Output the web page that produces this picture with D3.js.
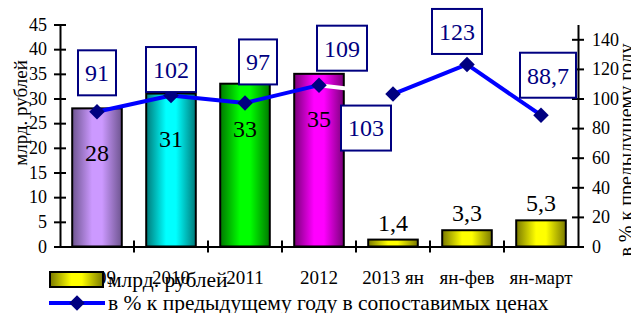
<!DOCTYPE html>
<html>
<head>
<meta charset="utf-8">
<script src="https://cdnjs.cloudflare.com/ajax/libs/d3/7.8.5/d3.min.js"></script>
<style>
  html, body { margin: 0; padding: 0; background: #fff; }
  svg text { font-family: "Liberation Serif", "Times New Roman", serif !important; }
</style>
</head>
<body>
<div id="chart"></div>
<script>
// data
const categories = ['2009', '2010', '2011', '2012', '2013 ян', 'ян-фев', 'ян-март'];
const amounts = [28, 31, 33, 35, 1.4, 3.3, 5.3];              // млрд. рублей
const amountLabels = ['28', '31', '33', '35', '1,4', '3,3', '5,3'];
const percents = [91, 102, 97, 109, 103, 123, 88.7];           // в % к предыдущему году
const percentLabels = ['91', '102', '97', '109', '103', '123', '88,7'];
const leftTicks = [0, 5, 10, 15, 20, 25, 30, 35, 40, 45];
const rightTicks = [0, 20, 40, 60, 80, 100, 120, 140];

// bar fills (center colour / edge colour)
const barColors = [
  ['#cc99ff', '#6e5590'],
  ['#00ffff', '#007a7a'],
  ['#00ff00', '#007a00'],
  ['#ff00ff', '#7a007a'],
  ['#ffff00', '#7a7a00'],
  ['#ffff00', '#7a7a00'],
  ['#ffff00', '#7a7a00']
];
// where each boxed percent label sits relative to its marker
const labelOffsets = [[0, -39], [0, -26], [13, -41], [23, -37], [-27, 34], [-10, -33], [7, -40]];

const W = 631, H = 313;
const margin = { top: 24.5, right: 53, bottom: 66.5, left: 60 };

const svg = d3.select('#chart').append('svg')
  .attr('width', W).attr('height', H);
svg.append('rect').attr('width', W).attr('height', H).attr('fill', '#fff');

const x = d3.scaleBand()
  .domain(categories)
  .range([margin.left, W - margin.right])
  .paddingInner(0.33)
  .paddingOuter(0.165);

const xb = d3.scaleBand()
  .domain(categories)
  .range([margin.left, W - margin.right]);

const y = d3.scaleLinear().domain([0, 45]).range([H - margin.bottom, margin.top]);
const y2 = d3.scaleLinear().domain([0, 150]).range([H - margin.bottom, margin.top]);

// gradients
const defs = svg.append('defs');
barColors.forEach((c, i) => {
  const g = defs.append('linearGradient').attr('id', 'grad' + i)
    .attr('x1', '0%').attr('x2', '100%').attr('y1', '0%').attr('y2', '0%');
  g.append('stop').attr('offset', '0%').attr('stop-color', c[1]);
  g.append('stop').attr('offset', '40%').attr('stop-color', c[0]);
  g.append('stop').attr('offset', '60%').attr('stop-color', c[0]);
  g.append('stop').attr('offset', '100%').attr('stop-color', c[1]);
});

// bars
svg.selectAll('.bar')
  .data(amounts)
  .enter().append('rect')
  .attr('class', 'bar')
  .attr('x', (d, i) => x(categories[i]))
  .attr('y', d => y(d))
  .attr('width', x.bandwidth())
  .attr('height', d => y(0) - y(d))
  .attr('fill', (d, i) => 'url(#grad' + i + ')')
  .attr('stroke', '#000')
  .attr('stroke-width', 2);

// bar value labels
svg.selectAll('.blabel')
  .data(amounts)
  .enter().append('text')
  .attr('class', 'blabel')
  .attr('x', (d, i) => x(categories[i]) + x.bandwidth() / 2)
  .attr('y', d => d > 10 ? y(d) + 53 : y(d) - 9)
  .attr('text-anchor', 'middle')
  .attr('font-size', 24)
  .attr('fill', '#000')
  .text((d, i) => amountLabels[i]);

// left axis
const leftAxis = svg.append('g')
  .attr('transform', `translate(${margin.left},0)`)
  .call(d3.axisLeft(y).tickValues(leftTicks).tickSizeInner(0).tickSizeOuter(0).tickPadding(13));
leftAxis.select('.domain').attr('stroke', '#000').attr('stroke-width', 2);
leftAxis.selectAll('.tick line').attr('x1', -6).attr('x2', 6).attr('stroke', '#000').attr('stroke-width', 2);
leftAxis.selectAll('.tick text').attr('font-size', 18).attr('fill', '#000');

// right axis
const rightAxis = svg.append('g')
  .attr('transform', `translate(${W - margin.right},0)`)
  .call(d3.axisRight(y2).tickValues(rightTicks).tickSizeInner(0).tickSizeOuter(0).tickPadding(14));
rightAxis.select('.domain').attr('stroke', '#000').attr('stroke-width', 2);
rightAxis.selectAll('.tick line').attr('x1', -6).attr('x2', 6).attr('stroke', '#000').attr('stroke-width', 2);
rightAxis.selectAll('.tick text').attr('font-size', 18).attr('fill', '#000');

// bottom axis
const bottomAxis = svg.append('g')
  .attr('transform', `translate(0,${y(0)})`)
  .call(d3.axisBottom(xb).tickSize(0).tickSizeOuter(0).tickPadding(24));
bottomAxis.select('.domain').attr('stroke', '#000').attr('stroke-width', 2);
bottomAxis.selectAll('.tick text').attr('font-size', 19).attr('fill', '#000');
bottomAxis.selectAll('.sep')
  .data(categories.slice(1))
  .enter().append('line')
  .attr('class', 'sep')
  .attr('x1', d => xb(d)).attr('x2', d => xb(d))
  .attr('y1', -6).attr('y2', 6)
  .attr('stroke', '#000').attr('stroke-width', 2);

// axis titles
svg.append('text')
  .attr('transform', `translate(27,113) rotate(-90)`)
  .attr('text-anchor', 'middle')
  .attr('font-size', 19)
  .text('млрд. рублей');
svg.append('text')
  .attr('transform', `translate(633,150) rotate(-90)`)
  .attr('text-anchor', 'middle')
  .attr('font-size', 20)
  .text('в % к предыдущему году');

// line
const cx = i => xb(categories[i]) + xb.bandwidth() / 2;
const segs = d3.pairs(percents.map((d, i) => [cx(i), y2(d)]));
svg.selectAll('.seg')
  .data(segs)
  .enter().append('line')
  .attr('class', 'seg')
  .attr('x1', d => d[0][0]).attr('y1', d => d[0][1])
  .attr('x2', d => d[1][0]).attr('y2', d => d[1][1])
  .attr('stroke', (d, i) => i === 3 ? '#fff' : '#0000ff')
  .attr('stroke-width', 4);

const diamond = d3.symbol().type(d3.symbolSquare).size(120);
svg.selectAll('.mk')
  .data(percents)
  .enter().append('path')
  .attr('class', 'mk')
  .attr('d', diamond)
  .attr('transform', (d, i) => `translate(${cx(i)},${y2(d)}) rotate(45)`)
  .attr('fill', '#000080');

// boxed percent labels
const lbl = svg.selectAll('.plabel')
  .data(percents)
  .enter().append('g')
  .attr('class', 'plabel')
  .attr('transform', (d, i) => `translate(${cx(i) + labelOffsets[i][0]},${y2(d) + labelOffsets[i][1]})`);
lbl.append('rect').attr('fill', '#fff').attr('stroke', '#000080').attr('stroke-width', 2);
lbl.append('text')
  .attr('text-anchor', 'middle')
  .attr('dy', '0.35em')
  .attr('font-size', 24)
  .attr('fill', '#000080')
  .text((d, i) => percentLabels[i]);
lbl.each(function () {
  const g = d3.select(this);
  const w = g.select('text').node().getComputedTextLength() + 14;
  g.select('rect').attr('x', -w / 2).attr('y', -22.5).attr('width', w).attr('height', 45);
});

// legend
const leg = svg.append('g');
leg.append('rect')
  .attr('x', 50).attr('y', 272).attr('width', 53).attr('height', 15)
  .attr('fill', 'url(#grad4)').attr('stroke', '#000').attr('stroke-width', 2);
leg.append('text').attr('x', 108).attr('y', 287).attr('font-size', 21.5).text('млрд. рублей');
leg.append('line').attr('x1', 49).attr('x2', 105).attr('y1', 303).attr('y2', 303)
  .attr('stroke', '#0000ff').attr('stroke-width', 4);
leg.append('path').attr('d', diamond).attr('transform', 'translate(77,303) rotate(45)').attr('fill', '#000080');
leg.append('text').attr('x', 108).attr('y', 310).attr('font-size', 21.5).text('в % к предыдущему году в сопоставимых ценах');
</script>
</body>
</html>
